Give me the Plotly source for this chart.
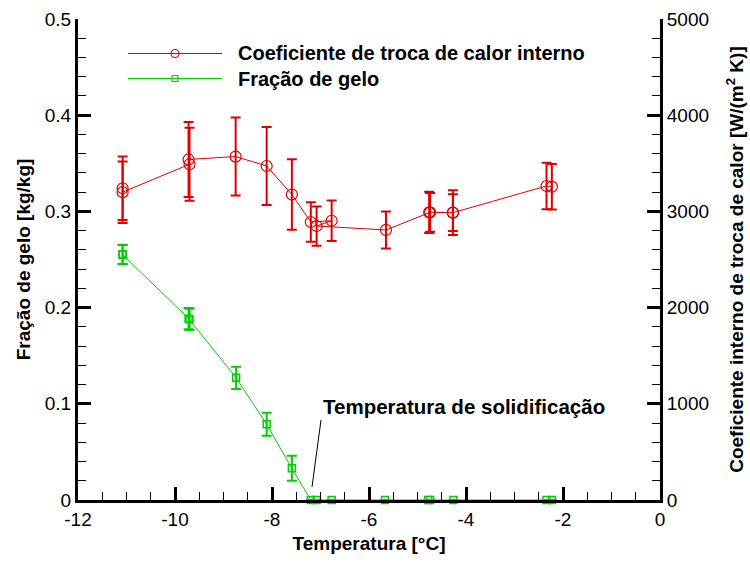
import plotly.graph_objects as go

# ---- data ----
temp_h = [-11.08, -11.08, -9.70, -9.72, -8.75, -8.11, -7.59, -7.20, -6.77, -7.08,
          -5.65, -4.76, -4.74, -4.27, -4.27, -2.34, -2.23]
coef_h = [3240, 3200, 3490, 3540, 3570, 3472, 3175, 2890, 2903, 2848,
          2807, 2990, 2990, 2987, 2987, 3264, 3257]
err_h = [330, 320, 380, 390, 405, 405, 367, 206, 210, 204,
         193, 215, 201, 232, 191, 242, 237]

temp_ice = [-11.08, -11.08, -9.70, -9.72, -8.74, -8.11, -7.59, -7.20, -7.08, -6.77,
            -5.67, -4.78, -4.74, -4.26, -2.34, -2.23]
frac_ice = [0.2554, 0.2550, 0.1878, 0.1885, 0.127, 0.0787, 0.033, 0.0, 0.0, 0.0,
            0.0, 0.0, 0.0, 0.0, 0.0, 0.0]
err_ice = [0.010, 0.010, 0.011, 0.011, 0.0115, 0.012, 0.013, 0, 0, 0,
           0, 0, 0, 0, 0, 0]

x_tickvals = [-12, -10, -8, -6, -4, -2, 0]
x_ticktext = ["-12", "-10", "-8", "-6", "-4", "-2", "0"]

RED = "#e00000"
GREEN = "#00d000"
FONT = "Liberation Sans, Arial, sans-serif"

fig = go.Figure()
fig.add_trace(go.Scatter(
    x=temp_ice, y=frac_ice, mode="lines+markers", yaxis="y", cliponaxis=False,
    line=dict(color=GREEN, width=1),
    marker=dict(symbol="square-open", size=7, color=GREEN, line=dict(width=1.5)),
    error_y=dict(type="data", array=err_ice, color=GREEN, thickness=2, width=5),
    showlegend=False))
fig.add_trace(go.Scatter(
    x=temp_h, y=coef_h, mode="lines+markers", yaxis="y2", cliponaxis=False,
    line=dict(color=RED, width=1),
    marker=dict(symbol="circle-open", size=11, color=RED, line=dict(width=1.2)),
    error_y=dict(type="data", array=err_h, color=RED, thickness=2, width=5),
    showlegend=False))

# plot area in pixels: x 78..660, y 19..500
def px(x):
    return (x - 78) / 582.0

def py(y):
    return (500 - y) / 481.0

shapes = [
    dict(type="line", xref="paper", yref="paper", x0=px(128), x1=px(222),
         y0=py(53.5), y1=py(53.5), line=dict(color=RED, width=1.2)),
    dict(type="circle", xref="paper", yref="paper", xsizemode="pixel", ysizemode="pixel",
         xanchor=px(175), yanchor=py(53.5), x0=-4, x1=4, y0=-4, y1=4,
         line=dict(color=RED, width=1.2)),
    dict(type="line", xref="paper", yref="paper", x0=px(128), x1=px(222),
         y0=py(78.5), y1=py(78.5), line=dict(color=GREEN, width=1.2)),
    dict(type="rect", xref="paper", yref="paper", xsizemode="pixel", ysizemode="pixel",
         xanchor=px(175), yanchor=py(78.5), x0=-3, x1=3, y0=-3, y1=3,
         line=dict(color=GREEN, width=1.2)),
    dict(type="line", xref="paper", yref="paper", x0=px(321), x1=px(312),
         y0=py(420), y1=py(487), line=dict(color="black", width=1)),
]

annotations = [
    dict(text="<b>Coeficiente de troca de calor interno</b>", xref="paper", yref="paper",
         x=px(236), y=py(53.5), xanchor="left", yanchor="middle", showarrow=False,
         font=dict(size=20, color="black", family=FONT)),
    dict(text="<b>Fração de gelo</b>", xref="paper", yref="paper",
         x=px(236), y=py(78.5), xanchor="left", yanchor="middle", showarrow=False,
         font=dict(size=20, color="black", family=FONT)),
    dict(text="<b>Temperatura de solidificação</b>", xref="paper", yref="paper",
         x=px(321), y=py(406), xanchor="left", yanchor="middle", showarrow=False,
         font=dict(size=20.5, color="black", family=FONT)),
]

axis_common = dict(
    showline=True, linecolor="black", linewidth=3, ticks="inside", ticklen=13,
    tickwidth=2.5, tickcolor="black", showgrid=False, zeroline=False, automargin=False,
    tickfont=dict(size=19, color="black", family=FONT),
)

fig.update_layout(
    width=750, height=563,
    margin=dict(l=78, r=90, t=19, b=63),
    paper_bgcolor="white", plot_bgcolor="white",
    font=dict(family=FONT, color="black"),
    shapes=shapes, annotations=annotations,
    xaxis=dict(range=[-12, 0], tickmode="array", tickvals=x_tickvals, ticktext=x_ticktext,
               minor=dict(dtick=0.5, ticklen=8, tickwidth=1, tickcolor="black", ticks="inside"),
               title=dict(text="<b>Temperatura [°C]</b>", font=dict(size=19, family=FONT), standoff=8),
               **axis_common),
    yaxis=dict(range=[0, 0.5], dtick=0.1, tick0=0,
               minor=dict(dtick=0.02, ticklen=8, tickwidth=1, tickcolor="black", ticks="inside"),
               title=dict(text="<b>Fração de gelo [kg/kg]</b>", font=dict(size=19, family=FONT), standoff=10),
               **axis_common),
    yaxis2=dict(range=[0, 5000], dtick=1000, tick0=0, overlaying="y", side="right",
                minor=dict(dtick=200, ticklen=8, tickwidth=1, tickcolor="black", ticks="inside"),
                title=dict(text="<b>Coeficiente interno de troca de calor [W/(m<sup>2</sup> K)]</b>",
                           font=dict(size=19, family=FONT), standoff=22),
                **axis_common),
)

fig.write_html("out.html")
